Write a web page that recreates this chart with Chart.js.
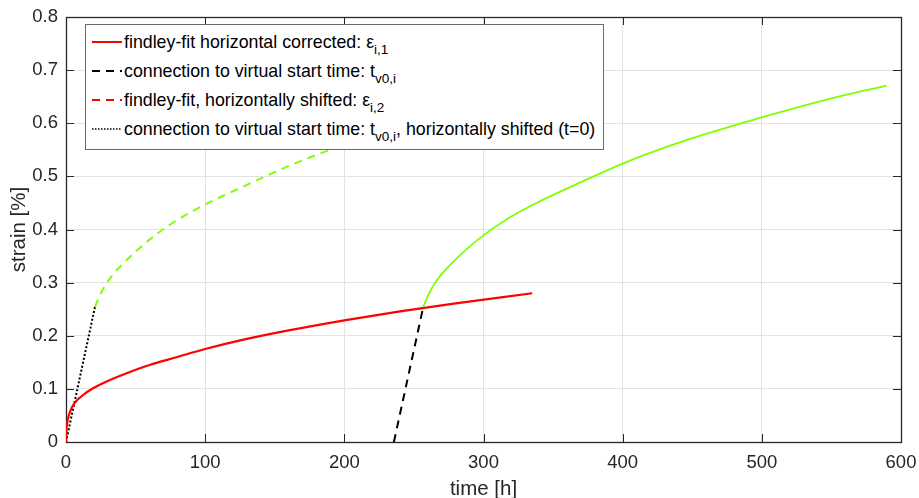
<!DOCTYPE html>
<html>
<head>
<meta charset="utf-8">
<script src="https://cdn.jsdelivr.net/npm/chart.js@4.4.1/dist/chart.umd.min.js"></script>
<style>
  html, body { margin: 0; padding: 0; background: #fff; }
  #wrap { position: relative; width: 919px; height: 498px; overflow: hidden; }
  #legend {
    position: absolute; left: 85px; top: 24px; width: 517px; height: 124px;
    background: #fff; border: 1px solid #6a6a6a;
    font-family: "Liberation Sans", Arial, sans-serif; font-size: 17.8px; color: #000;
  }
  .row { position: absolute; left: 0; height: 22px; line-height: 22px; white-space: nowrap; }
  .row svg { position: absolute; left: 6px; top: 10px; }
  .row span { position: absolute; left: 38px; top: 0; }
  sub { font-size: 13.5px; vertical-align: -6px; line-height: 0; }
</style>
</head>
<body>
<div id="wrap">
  <canvas id="myChart" width="919" height="498"></canvas>
  <div id="legend"></div>
</div>
<script>
"use strict";

// red: findley-fit horizontal corrected
const redTime = [0, 0.3, 1, 2, 4, 7, 12, 20, 30, 45, 60, 80, 100, 130, 160, 200, 240, 280, 335];
const redStrain = [0, 0.022, 0.038, 0.050, 0.064, 0.076, 0.088, 0.102, 0.115, 0.131, 0.145, 0.160, 0.175, 0.194, 0.210, 0.229, 0.246, 0.261, 0.280];

// green solid: findley-fit starting at the virtual start time
const greenTime = [256.7, 257.9, 259.9, 263.9, 269.9, 275.9, 287.9, 299.9, 315.9, 335.9, 365.9, 400.9, 447.9, 499.9, 545.9, 589.6];
// green dashed: same fit, horizontally shifted to t=0
const shiftTime = [20.8, 22, 24, 28, 34, 40, 52, 64, 80, 100, 130, 165, 212, 264, 310, 353.7];
// both green curves have the same strain values
const greenStrain = [0.254, 0.262, 0.274, 0.294, 0.316, 0.333, 0.363, 0.389, 0.418, 0.447, 0.484, 0.525, 0.570, 0.611, 0.644, 0.671];

// black dashed / dotted connection lines
const connTime = [235.6, 256.7];
const connStrain = [0, 0.254];
const connShiftTime = [0, 20.8];
const connShiftStrain = [0, 0.254];

const xTicks = [0, 100, 200, 300, 400, 500, 600];
const yTickLabels = ["0", "0.1", "0.2", "0.3", "0.4", "0.5", "0.6", "0.7", "0.8"];

const legendRows = [
    { color: "#ff0000", dash: "", html: "findley-fit horizontal corrected: &epsilon;<sub>i,1</sub>" },
    { color: "#000000", dash: "8,6", html: "connection to virtual start time: t<sub>v0,i</sub>" },
    { color: "#ff0000", dash: "8,6", html: "findley-fit, horizontally shifted: &epsilon;<sub>i,2</sub>" },
    { color: "#000000", dash: "1.5,1.5", html: "connection to virtual start time: t<sub>v0,i</sub>, horizontally shifted (t=0)" }
];
const legendRowY = [16.5, 46, 75, 103.5];

function toPoints(xs, ys) {
    let pts = [];
    for (let i = 0; i < xs.length; i++) {
        pts.push({ x: xs[i], y: ys[i] });
    }
    return pts;
}

function makeLine(data, color, width, dash) {
    return {
        data: data,
        borderColor: color,
        borderWidth: width,
        borderDash: dash,
        pointRadius: 0,
        fill: false,
        cubicInterpolationMode: "monotone"
    };
}

// box round the axes with inward ticks, like matlab
const boxPlugin = {
    id: "box",
    beforeDatasetsDraw(chart) {
        let ctx = chart.ctx;
        let a = chart.chartArea;
        let xs = chart.scales.x;
        let ys = chart.scales.y;
        ctx.save();
        ctx.strokeStyle = "#262626";
        ctx.lineWidth = 1;
        ctx.beginPath();
        for (let v of xTicks) {
            let px = Math.round(xs.getPixelForValue(v)) + 0.5;
            ctx.moveTo(px, a.bottom); ctx.lineTo(px, a.bottom - 8);
            ctx.moveTo(px, a.top); ctx.lineTo(px, a.top + 8);
        }
        for (let i = 0; i < yTickLabels.length; i++) {
            let py = Math.round(ys.getPixelForValue(i / 10)) + 0.5;
            ctx.moveTo(a.left, py); ctx.lineTo(a.left + 8, py);
            ctx.moveTo(a.right, py); ctx.lineTo(a.right - 8, py);
        }
        ctx.stroke();
        ctx.lineWidth = 1.3;
        ctx.strokeRect(Math.round(a.left) + 0.5, Math.round(a.top) + 0.5,
            Math.round(a.right - a.left), Math.round(a.bottom - a.top));
        ctx.restore();
    }
};

const font = { family: "'Liberation Sans', Arial, sans-serif", size: 18.5 };

new Chart(document.getElementById("myChart"), {
    type: "line",
    data: {
        datasets: [
            makeLine(toPoints(shiftTime, greenStrain), "#80ff00", 2, [8, 6]),
            makeLine(toPoints(greenTime, greenStrain), "#80ff00", 1.8, []),
            makeLine(toPoints(redTime, redStrain), "#ff0000", 2.2, []),
            makeLine(toPoints(connTime, connStrain), "#000000", 2, [8, 6]),
            makeLine(toPoints(connShiftTime, connShiftStrain), "#000000", 2, [2, 2])
        ]
    },
    options: {
        responsive: false,
        animation: false,
        devicePixelRatio: 1,
        layout: { padding: { top: 17, right: 18, left: 0, bottom: 0 } },
        plugins: { legend: { display: false }, tooltip: { enabled: false } },
        scales: {
            x: {
                type: "linear",
                min: 0,
                max: 600,
                afterFit: function (scale) {
                    scale.height = 56;
                    scale.paddingLeft = 0;
                    scale.paddingRight = 0;
                },
                afterBuildTicks: function (scale) {
                    scale.ticks = xTicks.map(function (v) { return { value: v }; });
                },
                border: { display: false },
                grid: { color: "#e2e2e2", drawTicks: false },
                ticks: { color: "#262626", font: font, padding: 10, maxRotation: 0 },
                title: {
                    display: true, text: "time [h]", color: "#262626",
                    font: { family: font.family, size: 20.5 }, padding: { bottom: -4 }
                }
            },
            y: {
                type: "linear",
                min: 0,
                max: 0.8,
                afterFit: function (scale) {
                    scale.width = 66;
                    scale.paddingTop = 0;
                    scale.paddingBottom = 0;
                },
                border: { display: false },
                grid: { color: "#e2e2e2", drawTicks: false },
                ticks: {
                    color: "#262626", font: font, padding: 8, stepSize: 0.1,
                    callback: function (value, index) { return yTickLabels[index]; }
                },
                title: {
                    display: true, text: "strain [%]", color: "#262626",
                    font: { family: font.family, size: 20.5 }, padding: { top: 7 }
                }
            }
        }
    },
    plugins: [boxPlugin]
});

// legend with subscripts, drawn on top of the chart
let box = document.getElementById("legend");
legendRows.forEach(function (r, i) {
    let row = document.createElement("div");
    row.className = "row";
    row.style.top = (legendRowY[i] - 11) + "px";
    let dashAttr = r.dash ? ' stroke-dasharray="' + r.dash + '"' : "";
    let sw = r.dash === "1.5,1.5" ? 1.6 : 2;
    row.innerHTML = '<svg width="32" height="4"><line x1="0" y1="1" x2="30" y2="1" stroke="' + r.color +
        '" stroke-width="' + sw + '"' + dashAttr + '/></svg><span>' + r.html + '</span>';
    box.appendChild(row);
});
</script>
</body>
</html>
